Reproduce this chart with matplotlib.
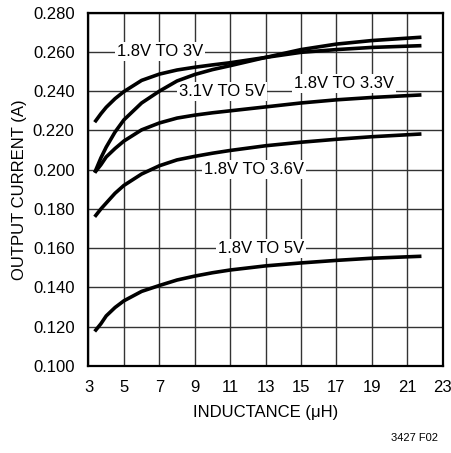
import matplotlib
matplotlib.use('Agg')
import matplotlib.pyplot as plt

plt.rcParams['font.family'] = ['Liberation Sans', 'DejaVu Sans']

# inductance (uH)
inductance = [3.35, 3.7, 4, 4.5, 5, 6, 7, 8, 9, 10, 11, 13, 15, 17, 19, 21.8]

# output current (A)
i_18_3 = [0.2242, 0.2285, 0.2318, 0.2362, 0.2398, 0.2455, 0.2487, 0.2508,
          0.2522, 0.2534, 0.2545, 0.2572, 0.2598, 0.2612, 0.2623, 0.2632]
i_31_5 = [0.1985, 0.2060, 0.2115, 0.2192, 0.2254, 0.2340, 0.2400, 0.2452,
          0.2485, 0.2510, 0.2530, 0.2572, 0.2612, 0.2640, 0.2658, 0.2675]
i_18_33 = [0.1985, 0.2025, 0.2065, 0.2108, 0.2146, 0.2203, 0.2238, 0.2263,
           0.2278, 0.2290, 0.2300, 0.2320, 0.2340, 0.2356, 0.2368, 0.2381]
i_18_36 = [0.1760, 0.1800, 0.1830, 0.1880, 0.1920, 0.1978, 0.2020, 0.2050,
           0.2068, 0.2084, 0.2098, 0.2122, 0.2140, 0.2155, 0.2168, 0.2182]
i_18_5 = [0.1176, 0.1215, 0.1255, 0.1298, 0.1332, 0.1380, 0.1410, 0.1438,
          0.1458, 0.1475, 0.1489, 0.1510, 0.1525, 0.1538, 0.1549, 0.1559]

series = [i_18_3, i_31_5, i_18_33, i_18_36, i_18_5]
labels = ['1.8V TO 3V', '3.1V TO 5V', '1.8V TO 3.3V', '1.8V TO 3.6V', '1.8V TO 5V']
label_pos = [(7.04, 0.260), (10.53, 0.240), (17.41, 0.2441), (12.33, 0.200), (12.72, 0.160)]

xticks = list(range(3, 24, 2))
yticks = [0.100, 0.120, 0.140, 0.160, 0.180, 0.200, 0.220, 0.240, 0.260, 0.280]

fig = plt.figure(figsize=(4.51, 4.53), dpi=100)
ax = fig.add_axes([0.1962, 0.1921, 0.7854, 0.7799])

for y in series:
    ax.plot(inductance, y, color='black', lw=2.6, zorder=3, solid_capstyle='butt')

for txt, (x, y) in zip(labels, label_pos):
    ax.text(x, y, txt, fontsize=12, ha='center', va='center', zorder=2,
            bbox=dict(facecolor='white', edgecolor='none', pad=1.5))

ax.set_xlim(3, 23)
ax.set_ylim(0.100, 0.280)
ax.set_xticks(xticks)
ax.set_yticks(yticks)
ax.set_yticklabels([f'{v:.3f}' for v in yticks])
ax.grid(True, color='#333333', lw=1.0, zorder=0)
ax.set_axisbelow(True)
ax.tick_params(length=0, labelsize=12)
ax.tick_params(axis='x', pad=10)
ax.tick_params(axis='y', pad=10)
for s in ax.spines.values():
    s.set_linewidth(1.6)

ax.set_xlabel('INDUCTANCE (\u03bcH)', fontsize=12, labelpad=7)
ax.set_ylabel('OUTPUT CURRENT (A)', fontsize=12, labelpad=4)

fig.text(0.971, 0.033, '3427 F02', fontsize=8, ha='right', va='center')

fig.savefig('out.png', dpi=100)
